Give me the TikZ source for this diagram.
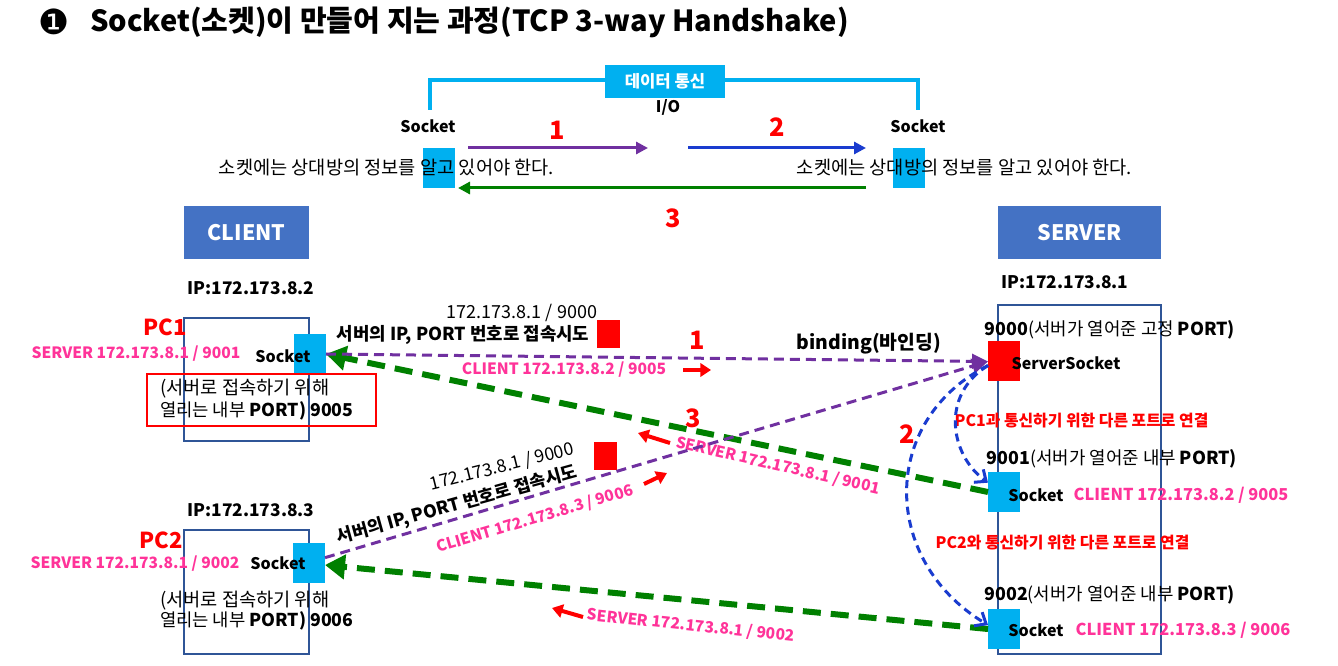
\documentclass[tikz,border=0pt]{standalone}
\usepackage{fontspec}
\setmainfont{Noto Sans CJK KR}
\newfontfamily\dejavu{DejaVu Sans}
\usetikzlibrary{arrows.meta}
\definecolor{cyanb}{HTML}{00B0F0}
\definecolor{hdr}{HTML}{4472C4}
\definecolor{navy}{HTML}{2F5597}
\definecolor{pinkt}{HTML}{FF3399}
\definecolor{purp}{HTML}{7030A0}
\definecolor{grn}{HTML}{008000}
\definecolor{blu}{HTML}{1A3CCF}
\definecolor{redc}{HTML}{FF0000}
\newcommand\fsz[1]{\fontsize{#1}{#1}\selectfont}
\tikzset{
 lbl/.style={font=\fsz{14}},
 mlbl/.style={font=\fsz{13.4}},
 blbl/.style={font=\bfseries\fsz{12}},
 pinkl/.style={text=pinkt, font=\bfseries\fsz{11.7}},
 pinkr/.style={text=pinkt, font=\bfseries\fsz{12.3}},
 num/.style={text=redc, font=\bfseries\fsz{19}},
 sockbox/.style={fill=cyanb, minimum width=24pt, minimum height=30pt},
 redbox/.style={fill=redc, minimum width=24pt, minimum height=30pt},
 hdrbox/.style={fill=hdr, text=white, font=\bfseries\fsz{16}, minimum height=39.75pt},
 pcbox/.style={draw=navy, line width=1.1pt},
 toparr/.style={line width=2.25pt, -{Triangle[length=9pt,width=9pt]}},
 purpline/.style={purp, line width=2.25pt, dash pattern=on 7.5pt off 4.5pt, -{Triangle[length=12pt,width=11pt]}},
 grnline/.style={grn, line width=4.5pt, dash pattern=on 13.5pt off 7.5pt, -{Triangle[length=15pt,width=18pt]}},
 blueline/.style={blu, line width=2.25pt, dash pattern=on 6pt off 4pt, -{Straight Barb[length=7pt,width=12pt]}},
 redarr/.style={redc, line width=3pt, -{Triangle[length=8pt,width=10pt]}},
 redtxt/.style={text=redc, font=\bfseries\fsz{11.9}},
}
\begin{document}
\begin{tikzpicture}[x=0.75pt,y=-0.75pt, every node/.style={inner sep=0pt, outer sep=0pt}]
\useasboundingbox (0,0) rectangle (1338,666);
% title
\node[font=\dejavu\fsz{26}] (bullet) at (54,22) {❶};
\node[anchor=west, font=\bfseries\fsz{21.8}] (title) at (90,22) {Socket(소켓)이 만들어 지는 과정(TCP 3-way Handshake)};
% top part
\coordinate (brA) at (430,110);
\coordinate (brB) at (918,80);
\coordinate (brC) at (918,110);
\draw[cyanb, line width=3pt] (brA) |- (brB) -- (brC);
\node[fill=cyanb, minimum width=90pt, minimum height=24.75pt, text=white, font=\bfseries\fsz{12.5}] (dc) at (665,81.5) {데이터 통신};
\node[blbl] (io) at (668,107) {I/O};
\node[blbl] (sockL) at (428,126) {Socket};
\node[blbl] (sockR) at (918,126) {Socket};
\node[sockbox] (cL) at (439,168) {};
\node[sockbox] (cR) at (909,168) {};
\node[lbl] (tL) at (386.5,168) {소켓에는 상대방의 정보를 알고 있어야 한다.};
\node[lbl] (tR) at (964.5,168) {소켓에는 상대방의 정보를 알고 있어야 한다.};
\coordinate (a1s) at (468,148); \coordinate (a1e) at (648,148);
\coordinate (a2s) at (688,148); \coordinate (a2e) at (866,148);
\coordinate (a3s) at (866,188); \coordinate (a3e) at (458,188);
\draw[toparr, purp] (a1s) -- (a1e);
\draw[toparr, blu] (a2s) -- (a2e);
\draw[toparr, grn] (a3s) -- (a3e);
\node[num] (n1) at (557,130) {1};
\node[num] (n2) at (777,127) {2};
\node[num] (n3) at (673,218) {3};
% headers
\node[hdrbox, minimum width=93.75pt] (client) at (246.5,232.5) {CLIENT};
\node[hdrbox, minimum width=122.25pt] (server) at (1079.5,232.5) {SERVER};
\node[font=\bfseries\fsz{13}] (ip1) at (251,288) {IP:172.173.8.2};
\node[font=\bfseries\fsz{13}] (ip2) at (1065,282) {IP:172.173.8.1};
\node[font=\bfseries\fsz{13}] (ip3) at (251,510) {IP:172.173.8.3};
% PC boxes
\node[pcbox, minimum width=93.75pt, minimum height=92.25pt] (pc1box) at (246.5,379.5) {};
\node[pcbox, minimum width=93.75pt, minimum height=93pt] (pc2box) at (246.5,592) {};
\node[pcbox, minimum width=122.25pt, minimum height=261.75pt] (srvbox) at (1079.5,479.5) {};
\node[text=redc, font=\bfseries\fsz{16.5}] (pc1) at (165,327) {PC1};
\node[text=redc, font=\bfseries\fsz{16.5}] (pc2) at (161,540) {PC2};
\node[pinkl] (s9001) at (136,354) {SERVER 172.173.8.1 / 9001};
\node[pinkl] (s9002) at (135,564) {SERVER 172.173.8.1 / 9002};
\node[sockbox] (ps1) at (310,354) {};
\node[sockbox] (ps2) at (309,563) {};
\node[blbl] (ps1t) at (283,356) {Socket};
\node[blbl] (ps2t) at (278,563) {Socket};
\node[draw=redc, line width=1.1pt, minimum width=171.75pt, minimum height=39pt] (rb) at (261.5,400) {};
\node[lbl, anchor=west] (rb1) at (160,389) {(서버로 접속하기 위해};
\node[font=\fsz{13.3}, anchor=west] (rb2) at (160,411) {열리는 내부 \textbf{PORT) 9005}};
\node[lbl, anchor=west] (p2a) at (160,601) {(서버로 접속하기 위해};
\node[font=\fsz{13.3}, anchor=west] (p2b) at (160,621) {열리는 내부 \textbf{PORT) 9006}};
% server side
\node[mlbl] (t9000) at (1110,330) {\textbf{9000}(서버가 열어준 고정 \textbf{PORT)}};
\node[redbox] (ssock) at (1004,361.5) {};
\node[blbl] (ssockt) at (1066,363) {ServerSocket};
\node[redtxt] (pc1c) at (1081.5,421) {PC1과 통신하기 위한 다른 포트로 연결};
\node[mlbl] (t9001) at (1112,459) {\textbf{9001}(서버가 열어준 내부 \textbf{PORT)}};
\node[sockbox] (sk1) at (1004,492) {};
\node[blbl] (sk1t) at (1036,495) {Socket};
\node[pinkr] (c9005) at (1181,495) {CLIENT 172.173.8.2 / 9005};
\node[redtxt] (pc2c) at (1062.5,543) {PC2와 통신하기 위한 다른 포트로 연결};
\node[mlbl] (t9002) at (1109.5,595) {\textbf{9002}(서버가 열어준 내부 \textbf{PORT)}};
\node[sockbox] (sk2) at (1004,629) {};
\node[blbl] (sk2t) at (1036,630) {Socket};
\node[pinkr] (c9006) at (1183,630) {CLIENT 172.173.8.3 / 9006};
% middle labels
\node[font=\fsz{13.5}] (ip9000a) at (522,313) {172.173.8.1 / 9000};
\node[font=\bfseries\fsz{13.4}] (try1) at (463,335) {서버의 IP, PORT 번호로 접속시도};
\node[fill=redc, minimum width=17.25pt, minimum height=21pt] (rsq1) at (608,334) {};
\node[num] (m1) at (697,340) {1};
\node[font=\bfseries\fsz{14.5}] (bind) at (869,344) {binding(바인딩)};
\node[pinkl] (c9005m) at (564,370) {CLIENT 172.173.8.2 / 9005};
\node[num] (m3) at (693,418) {3};
\node[pinkl, rotate=-13] (s9001m) at (778,466) {SERVER 172.173.8.1 / 9001};
\node[fill=redc, minimum width=17.25pt, minimum height=21pt] (rsq2) at (605.5,456) {};
\node[font=\fsz{13.3}, rotate=14] (ip9000b) at (502,467) {172.173.8.1 / 9000};
\node[font=\bfseries\fsz{13.2}, rotate=15.5] (try2) at (457,505) {서버의 IP, PORT 번호로 접속시도};
\node[pinkl, rotate=16.5] (c9006m) at (535,519) {CLIENT 172.173.8.3 / 9006};
\node[pinkl, rotate=-6] (s9002m) at (691,626) {SERVER 172.173.8.1 / 9002};
\node[num] (m2) at (907,434) {2};
% red small arrows
\coordinate (r1s) at (683,370); \coordinate (r1e) at (711,370);
\coordinate (r2s) at (670,443); \coordinate (r2e) at (638,433);
\coordinate (r3s) at (644,484); \coordinate (r3e) at (667,473);
\coordinate (r4s) at (583,617); \coordinate (r4e) at (552,608);
\draw[redarr] (r1s) -- (r1e);
\draw[redarr] (r2s) -- (r2e);
\draw[redarr] (r3s) -- (r3e);
\draw[redarr] (r4s) -- (r4e);
% connectors
\draw[grnline] (sk1.west) -- (ps1.east);
\draw[grnline] (sk2.west) -- ([yshift=-1.5pt]ps2.east);
\draw[purpline] (ps1.east) -- (ssock.west);
\draw[purpline] ([yshift=4pt]ps2.east) -- (ssock.west);
\draw[blueline] ([yshift=-3pt]ssock.west) .. controls (940,395) and (950,455) .. ([yshift=7pt]sk1.west);
\draw[blueline] ([yshift=-3pt]ssock.west) .. controls (880,420) and (880,560) .. ([yshift=3pt]sk2.west);
\end{tikzpicture}
\end{document}
